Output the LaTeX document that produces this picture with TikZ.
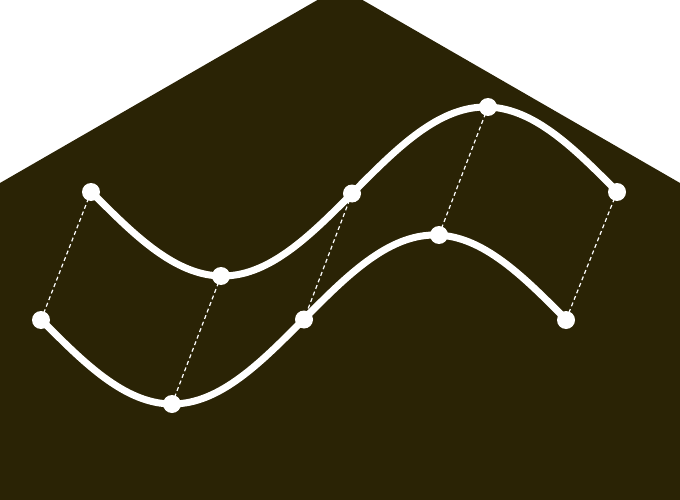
\documentclass[tikz,border=0pt]{standalone}
\usetikzlibrary{calc}
\definecolor{housebrown}{RGB}{42,35,5}
\tikzset{
  dotnode/.style={circle, fill=white, inner sep=0pt, minimum size=18pt},
  wave/.style={white, line width=7pt, line cap=round},
  link/.style={white, line width=1.2pt, dash pattern=on 4pt off 3pt}
}
\begin{document}
\begin{tikzpicture}[x=1pt,y=-1pt]
\useasboundingbox (0,0) rectangle (680,500);
\clip (0,0) rectangle (680,500);
\fill[white] (0,0) rectangle (680,500);
\fill[housebrown] (0,500) -- (0,183) -- (340,-13) -- (680,183) -- (680,500) -- cycle;
% waves
\draw[wave] plot[domain=0:1, samples=120, smooth] ({91+526*\x}, {191.5+84.5*sin(360*\x)});
\draw[wave] plot[domain=0:1, samples=120, smooth] ({41+525*\x}, {319.5+84.5*sin(360*\x)});
% dots upper
\node[dotnode] (u1) at (91,192) {};
\node[dotnode] (u2) at (221,276) {};
\node[dotnode] (u3) at (352,193.5) {};
\node[dotnode] (u4) at (488,107) {};
\node[dotnode] (u5) at (617,192) {};
% dots lower
\node[dotnode] (l1) at (41,320) {};
\node[dotnode] (l2) at (172,404) {};
\node[dotnode] (l3) at (304,319.5) {};
\node[dotnode] (l4) at (439,235) {};
\node[dotnode] (l5) at (566,320) {};
% links
\draw[link] (u1.center) -- (l1.center);
\draw[link] (u2.center) -- (l2.center);
\draw[link] (u3.center) -- (l3.center);
\draw[link] (u4.center) -- (l4.center);
\draw[link] (u5.center) -- (l5.center);
\end{tikzpicture}
\end{document}
